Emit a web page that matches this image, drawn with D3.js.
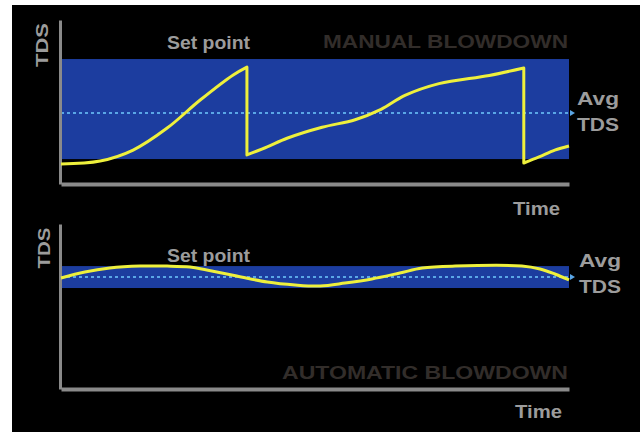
<!DOCTYPE html>
<html>
<head>
<meta charset="utf-8">
<script src="https://cdn.jsdelivr.net/npm/d3@7"></script>
<style>
  body { margin: 0; background: #fff; }
  text { font-family: "Liberation Sans", Arial, sans-serif; font-weight: bold; }
</style>
</head>
<body>
<div id="chart"></div>
<script>
// time runs 0..100 across each panel, TDS in arbitrary units 0..100

// manual blowdown: three segments, each ends with a sudden drop
const manualSeg1 = [[0, 12.2], [7.7, 14.0], [14.2, 20.7], [20.9, 34.1], [27.4, 51.2], [33.9, 66.5], [36.6, 71.3]];
const manualSeg2 = [[36.6, 17.7], [40.6, 22.6], [44.5, 27.9], [51.4, 34.6], [57.9, 39.2], [63.0, 45.5],
  [67.7, 54.0], [74.4, 61.2], [84.3, 66.2], [91.1, 70.7]];
const manualSeg3 = [[91.1, 12.8], [94.1, 16.5], [97.2, 20.7], [100, 23.2]];
const manualBand = [15.2, 76.2];
const manualAvg = 43.3;

// automatic blowdown: gentle wave round the set point
const autoCurve = [[0, 67.3], [4.7, 70.9], [9.6, 73.3], [15.6, 74.5], [20.9, 74.5], [25.4, 73.9], [28.7, 72.1],
  [34.6, 68.5], [40.6, 64.8], [46.1, 63.0], [51.0, 62.4], [55.9, 64.2], [61.2, 66.7], [66.7, 70.3],
  [71.1, 73.3], [77.6, 74.5], [90.7, 74.5], [94.3, 72.7], [97.2, 69.7], [100, 66.1]];
const autoBand = [61.2, 74.5];
const autoAvg = 67.9;

const W = 644, H = 432;
const grey = '#9c9c9c';

const svg = d3.select('#chart').append('svg').attr('width', W).attr('height', H);
svg.append('rect').attr('x', 12).attr('y', 5).attr('width', 628).attr('height', 427).attr('fill', '#000');

const x = d3.scaleLinear().domain([0, 100]).range([61, 569]);

function panel(cfg) {
  const y = d3.scaleLinear().domain([0, 100]).range([cfg.bottom, cfg.top]);
  const g = svg.append('g');

  // big faint caption
  g.append('text').attr('x', cfg.capX).attr('y', cfg.capY)
    .attr('textLength', cfg.capLen).attr('lengthAdjust', 'spacingAndGlyphs')
    .style('font-size', '19px').attr('fill', '#322d2a').text(cfg.caption);

  // band between low and set point
  g.append('rect')
    .attr('x', x(0)).attr('y', y(cfg.band[1]))
    .attr('width', x(100) - x(0)).attr('height', y(cfg.band[0]) - y(cfg.band[1]))
    .attr('fill', '#1c3d9f');

  // dotted average line with a small arrow tip
  g.append('line')
    .attr('x1', x(0)).attr('x2', x(100) + 2)
    .attr('y1', y(cfg.avg)).attr('y2', y(cfg.avg))
    .attr('stroke', '#5aa6e6').attr('stroke-width', 2).attr('stroke-dasharray', '3,3');
  g.append('path')
    .attr('d', `M${x(100) + 1},${y(cfg.avg) - 3}L${x(100) + 6},${y(cfg.avg)}L${x(100) + 1},${y(cfg.avg) + 3}Z`)
    .attr('fill', '#5aa6e6');

  // axes without ticks
  const xa = g.append('g').attr('transform', `translate(0,${cfg.bottom})`)
    .call(d3.axisBottom(x).ticks(0).tickSizeOuter(0));
  xa.select('.domain').attr('stroke', '#8a8a8a').attr('stroke-width', 4);
  const ya = g.append('g').attr('transform', `translate(${x(0) - 1},0)`)
    .call(d3.axisLeft(y).ticks(0).tickSizeOuter(0));
  ya.select('.domain').attr('stroke', '#8a8a8a').attr('stroke-width', 3);

  // curve: smooth pieces joined by straight vertical drops
  const line = d3.line().x(d => x(d[0])).y(d => y(d[1])).curve(d3.curveCatmullRom.alpha(0.5));
  const d = cfg.segments.map((s, i) => i ? line(s).replace(/^M/, 'L') : line(s)).join('');
  g.append('path').attr('d', d).attr('fill', 'none')
    .attr('stroke', '#eef03c').attr('stroke-width', 3).attr('stroke-linejoin', 'round');

  // labels
  g.append('text').attr('transform', `translate(${cfg.tdsX},${cfg.tdsY}) rotate(-90)`)
    .attr('text-anchor', 'middle').attr('textLength', cfg.tdsLen).attr('lengthAdjust', 'spacingAndGlyphs')
    .style('font-size', '17px').attr('fill', grey).text('TDS');
  g.append('text').attr('x', 167).attr('y', cfg.setY)
    .attr('textLength', 83).attr('lengthAdjust', 'spacingAndGlyphs')
    .style('font-size', '18px').attr('fill', grey).text('Set point');
  g.append('text').attr('x', cfg.avgX).attr('y', cfg.avgY1)
    .attr('textLength', 42).attr('lengthAdjust', 'spacingAndGlyphs')
    .style('font-size', '18px').attr('fill', grey).text('Avg');
  g.append('text').attr('x', cfg.avgX).attr('y', cfg.avgY2)
    .attr('textLength', 42).attr('lengthAdjust', 'spacingAndGlyphs')
    .style('font-size', '18px').attr('fill', grey).text('TDS');
  g.append('text').attr('x', cfg.timeX).attr('y', cfg.timeY)
    .attr('textLength', 47).attr('lengthAdjust', 'spacingAndGlyphs')
    .style('font-size', '18px').attr('fill', grey).text('Time');
}

panel({
  top: 20, bottom: 184, band: manualBand, avg: manualAvg,
  segments: [manualSeg1, manualSeg2, manualSeg3],
  caption: 'MANUAL BLOWDOWN', capX: 323, capY: 48, capLen: 245,
  tdsX: 48, tdsY: 45, tdsLen: 44, setY: 49,
  avgX: 577, avgY1: 105, avgY2: 131, timeX: 513, timeY: 215
});

panel({
  top: 224, bottom: 389, band: autoBand, avg: autoAvg,
  segments: [autoCurve],
  caption: 'AUTOMATIC BLOWDOWN', capX: 282, capY: 379, capLen: 286,
  tdsX: 50, tdsY: 248, tdsLen: 41, setY: 262,
  avgX: 579, avgY1: 267, avgY2: 293, timeX: 515, timeY: 418
});
</script>
</body>
</html>
